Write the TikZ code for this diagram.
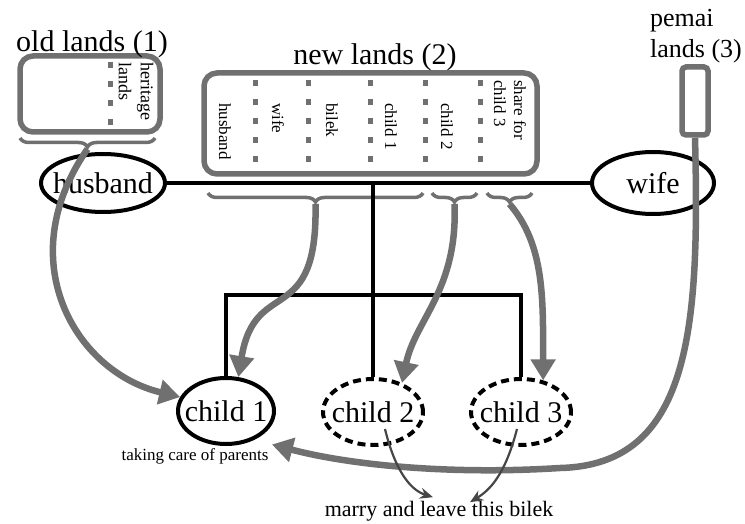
\documentclass[tikz,border=0pt]{standalone}
\usepackage{fontspec}
\setmainfont{Liberation Serif}
\usetikzlibrary{positioning,arrows.meta,shapes.geometric,decorations.pathreplacing}
\definecolor{landgray}{RGB}{112,112,112}
\definecolor{thingray}{RGB}{70,70,70}

\begin{document}
\begin{tikzpicture}[x=1pt,y=-1pt,font=\fontsize{30}{32}\selectfont]
  \tikzstyle{person}=[draw,ellipse,line width=4pt,inner ysep=0pt,inner xsep=-15pt]
  \tikzstyle{heir}=[person,dash pattern=on 8pt off 5pt]
  \tikzstyle{plot}=[draw=landgray,line width=5.5pt,rounded corners=13pt,inner sep=0pt]
  \tikzstyle{split}=[landgray,line width=5pt,dash pattern=on 6pt off 13pt]
  \tikzstyle{share}=[rotate=-90,anchor=west,align=left,inner sep=0pt,font=\fontsize{17}{20}\selectfont]
  \tikzstyle{bracket}=[draw=landgray,line width=3.5pt,decorate,decoration={brace,mirror,amplitude=9pt}]
  \tikzstyle{flow}=[draw=landgray,line width=6.5pt,-{Triangle[length=21pt,width=24pt]}]
  \tikzstyle{leave}=[draw=thingray,line width=2.2pt,-{Stealth[length=13pt,width=11pt]}]
  \tikzstyle{kin}=[line width=3.2pt]
  \useasboundingbox (0,0) rectangle (745,524);

  % land plots
  \node[plot,minimum width=140pt,minimum height=76pt] (oldlands) at (90,94) {};
  \node[anchor=base] (oldtitle) at (92,52) {old lands (1)};
  \draw[split,dash pattern=on 6pt off 13pt] (110,62) -- (110,128);
  \node[share,font=\fontsize{18}{22}\selectfont] (oldheritage) at (136,62) {heritage\\lands};

  \node[plot,minimum width=333pt,minimum height=101pt] (newlands) at (370.5,123.5) {};
  \node[anchor=base] (newtitle) at (375,65) {new lands (2)};
  \foreach \x in {255,308,370,425,480}
    \draw[split] (\x,80) -- (\x,162);
  \node[share] (nlhusband) at (225,103) {husband};
  \node[share] (nlwife) at (278,103) {wife};
  \node[share] (nlbilek) at (332,103) {bilek};
  \node[share] (nlchild1) at (391,103) {child 1};
  \node[share] (nlchild2) at (447,103) {child 2};
  \node[share] (nlshare) at (510,80) {share for\\child 3};

  \node[plot,minimum width=26pt,minimum height=68pt,rounded corners=4pt] (pemai) at (695,101) {};
  \node[anchor=north,align=left,inner sep=0pt,font=\fontsize{26}{31}\selectfont] (pemaititle) at (696,9) {pemai\\lands (3)};

  % braces
  \draw[bracket] (20,138) -- (155,138);
  \draw[bracket] (208,193) -- (423,193);
  \draw[bracket] (432,193) -- (477,193);
  \draw[bracket] (487,193) -- (532,193);
  \coordinate (oldtip) at (87.5,149);
  \coordinate (bigtip) at (315.5,204);
  \coordinate (tiptwo) at (454.5,204);
  \coordinate (tipthree) at (509.5,204);

  % family
  \node[person,minimum width=124pt,minimum height=58pt] (husband) at (103,183) {husband};
  \node[person,minimum width=122pt,minimum height=62pt] (wife) at (653,183) {wife};
  \node[person,minimum width=96pt,minimum height=66pt] (child1) at (226,411) {child 1};
  \node[heir,minimum width=100pt,minimum height=66pt] (child2) at (373,412) {child 2};
  \node[heir,minimum width=100pt,minimum height=66pt] (child3) at (521,412) {child 3};
  \coordinate (couple) at (373,183);
  \coordinate (bar) at (373,295);
  \draw[kin] (husband) -- (wife);
  \draw[kin] (couple) -- (child2);
  \draw[kin] (child1.north) |- (bar) -| (child3.north);

  \node[anchor=base,font=\fontsize{17}{20}\selectfont] (care) at (195,460) {taking care of parents};
  \node[anchor=base,font=\fontsize{22}{24}\selectfont] (marry) at (439,516) {marry and leave this bilek};

  % who gets which land
  \draw[flow] (oldtip) .. controls (10,260) and (75,372) .. (child1.163);
  \draw[flow] (bigtip) .. controls (318,330) and (255,275) .. (child1.70);
  \draw[flow] (tiptwo) .. controls (458,290) and (415,320) .. (child2.45);
  \draw[flow] (tipthree) .. controls (545,245) and (543,300) .. (child3.55);
  \draw[flow] (pemai.south) .. controls (700,330) and (690,465) .. (560,468)
    .. controls (450,475) and (350,465) .. (care.north east);
  \draw[leave] ([xshift=12pt,yshift=-17pt]child2.center) .. controls (395,470) and (410,490) .. ([xshift=-6pt]marry.north);
  \draw[leave] ([xshift=-4pt,yshift=-17pt]child3.center) .. controls (505,475) and (490,490) .. ([xshift=31pt,yshift=-5pt]marry.north);
\end{tikzpicture}
\end{document}
